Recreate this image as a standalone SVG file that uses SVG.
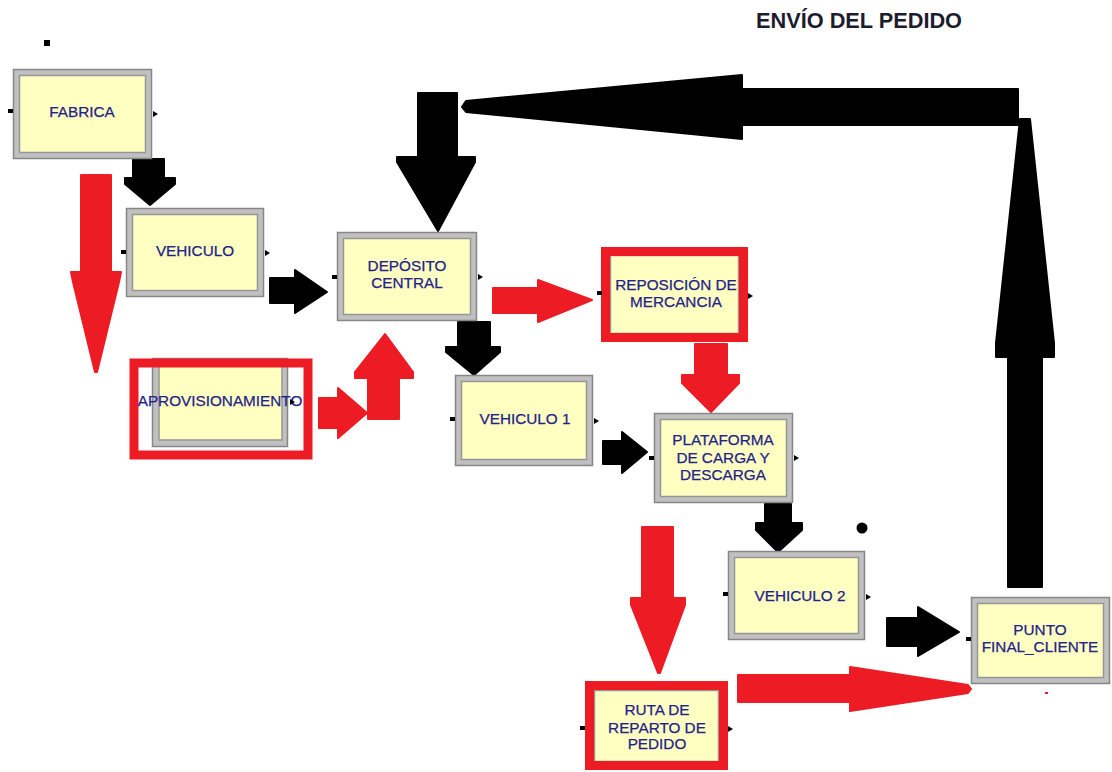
<svg xmlns="http://www.w3.org/2000/svg" xmlns:xlink="http://www.w3.org/1999/xlink" width="1112" height="772" viewBox="0 0 1112 772">
  <style>
    .frame { fill: #c0c0c0; stroke: #878787; stroke-width: 1.5; }
    .face { fill: #ffffc2; stroke: #969696; stroke-width: 1.5; }
    .hl { fill: none; stroke: #ed1c24; stroke-width: 9; }
    .lbl { font-family: "Liberation Sans", Arial, sans-serif; font-size: 15.3px; fill: #22228a; text-anchor: middle; stroke: #22228a; stroke-width: 0.25; }
    .title { font-family: "Liberation Sans", Arial, sans-serif; font-size: 22px; font-weight: bold; fill: #1c1c2e; }
    .blk { fill: #000; stroke: #000; stroke-width: 2; stroke-linejoin: round; }
    .red { fill: #ed1c24; stroke: #ed1c24; stroke-width: 2; stroke-linejoin: round; }
  </style>
  <defs>
    <rect id="pin" x="0" y="-2" width="5" height="4" fill="#000"/>
    <polygon id="pout" points="0,-3 5,0 0,3" fill="#000"/>
  </defs>

  <rect width="1112" height="772" fill="#fff"/>

  <text class="title" x="756" y="28" textLength="206" lengthAdjust="spacingAndGlyphs">ENVÍO DEL PEDIDO</text>
  <rect x="44" y="40" width="6" height="6" fill="#000"/>

  <!-- connectors -->
  <g id="connectors">
    <polygon class="blk" points="133,159 164,159 164,178 175,178 175,184 150,205 125,184 125,178 133,178"/>
    <polygon class="red" points="81,175 111,175 111,272 121,272 119,282 97,372 95,372 73,282 71,272 81,272"/>
    <polygon class="blk" points="270,278 295,278 295,270 327,292 295,313 295,303 270,303"/>
    <polygon class="red" points="368,419 399,419 399,378 413,378 413,372 385,334 355,372 355,378 368,378"/>
    <polygon class="red" points="319,398 338,398 338,388 367,413 338,438 338,428 319,428"/>
    <polygon class="blk" points="418,93 457,93 457,157 475,157 475,162 438,231 397,162 397,157 418,157"/>
    <polygon class="blk" points="1018,89 1018,125 742,125 742,139 466,112 462,107 466,101 742,75 742,89"/>
    <polygon class="blk" points="1008,587 1042,587 1042,357 1054,357 1054,343 1030,119 1020,119 996,343 996,357 1008,357"/>
    <polygon class="red" points="493,288 538,288 538,280 592,300 538,322 538,313 493,313"/>
    <polygon class="blk" points="458,322 490,322 490,347 500,347 500,352 474,375 446,352 446,347 458,347"/>
    <polygon class="red" points="695,344 727,344 727,375 739,375 739,383 711,412 682,383 682,375 695,375"/>
    <polygon class="blk" points="603,441 622,441 622,432 647,452 622,473 622,464 603,464"/>
    <polygon class="blk" points="765,504 791,504 791,523 802,523 802,530 778,552 756,530 756,523 765,523"/>
    <polygon class="red" points="642,527 673,527 673,598 685,598 685,605 660,673 658,673 631,605 631,598 642,598"/>
    <polygon class="blk" points="887,618 918,618 918,607 959,632 918,656 918,646 887,646"/>
    <polygon class="red" points="738,675 850,675 850,667 968,685 971,689 968,693 850,711 850,702 738,702"/>
    <circle cx="862" cy="528" r="5.5" fill="#000"/>
    <rect x="1045" y="692" width="3" height="2" fill="#ed1c24"/>
  </g>

  <!-- nodes -->
  <g id="fabrica">
    <rect class="frame" x="13.5" y="69.5" width="138" height="89"/>
    <rect class="face" x="19.5" y="75.5" width="126" height="77"/>
    <use xlink:href="#pin" x="8" y="111"/>
    <use xlink:href="#pout" x="153" y="114"/>
    <text class="lbl" x="82" y="117">FABRICA</text>
  </g>

  <g id="vehiculo">
    <rect class="frame" x="126.5" y="208.5" width="137" height="88"/>
    <rect class="face" x="132.5" y="214.5" width="125" height="76"/>
    <use xlink:href="#pin" x="121" y="252"/>
    <use xlink:href="#pout" x="265" y="253"/>
    <text class="lbl" x="195" y="256">VEHICULO</text>
  </g>

  <g id="deposito">
    <rect class="frame" x="337.5" y="232.5" width="139" height="88"/>
    <rect class="face" x="343.5" y="238.5" width="127" height="76"/>
    <use xlink:href="#pin" x="332" y="277"/>
    <use xlink:href="#pout" x="478" y="277"/>
    <text class="lbl" x="407" y="271">DEPÓSITO</text>
    <text class="lbl" x="407" y="288">CENTRAL</text>
  </g>

  <g id="reposicion">
    <rect class="face" x="610.5" y="255.5" width="128" height="78"/>
    <rect class="hl" x="605.5" y="251.5" width="138" height="86"/>
    <use xlink:href="#pin" x="597" y="293"/>
    <use xlink:href="#pout" x="748" y="296"/>
    <text class="lbl" x="676" y="290">REPOSICIÓN DE</text>
    <text class="lbl" x="676" y="307">MERCANCIA</text>
  </g>

  <g id="aprovisionamiento">
    <rect class="frame" x="152.5" y="358.5" width="135" height="88"/>
    <rect class="face" x="159" y="365" width="123" height="75"/>
    <rect class="hl" x="134" y="363" width="174" height="92"/>
    <text class="lbl" x="220" y="406">APROVISIONAMIENTO</text>
    <use xlink:href="#pout" x="290" y="402"/>
  </g>

  <g id="vehiculo-1">
    <rect class="frame" x="455.5" y="375.5" width="137" height="90"/>
    <rect class="face" x="461.5" y="381.5" width="125" height="78"/>
    <use xlink:href="#pin" x="450" y="419"/>
    <use xlink:href="#pout" x="594" y="421"/>
    <text class="lbl" x="525" y="424">VEHICULO 1</text>
  </g>

  <g id="plataforma">
    <rect class="frame" x="654.5" y="413.5" width="138" height="89"/>
    <rect class="face" x="660.5" y="419.5" width="126" height="77"/>
    <use xlink:href="#pin" x="649" y="458"/>
    <use xlink:href="#pout" x="794" y="458"/>
    <text class="lbl" x="723" y="445">PLATAFORMA</text>
    <text class="lbl" x="723" y="463">DE CARGA Y</text>
    <text class="lbl" x="723" y="480">DESCARGA</text>
  </g>

  <g id="vehiculo-2">
    <rect class="frame" x="728.5" y="551.5" width="136" height="88"/>
    <rect class="face" x="734.5" y="557.5" width="124" height="76"/>
    <use xlink:href="#pin" x="723" y="594"/>
    <use xlink:href="#pout" x="866" y="597"/>
    <text class="lbl" x="800" y="601">VEHICULO 2</text>
  </g>

  <g id="punto-final-cliente">
    <rect class="frame" x="971.5" y="597.5" width="138" height="86"/>
    <rect class="face" x="977.5" y="603.5" width="126" height="74"/>
    <use xlink:href="#pin" x="966" y="639"/>
    <text class="lbl" x="1040" y="635">PUNTO</text>
    <text class="lbl" x="1040" y="652">FINAL_CLIENTE</text>
  </g>

  <g id="ruta-reparto">
    <rect class="face" x="594.5" y="690.5" width="124" height="71"/>
    <rect class="hl" x="589.5" y="685.5" width="134" height="80"/>
    <use xlink:href="#pin" x="580" y="728"/>
    <use xlink:href="#pout" x="728" y="729"/>
    <text class="lbl" x="657" y="715">RUTA DE</text>
    <text class="lbl" x="657" y="733">REPARTO DE</text>
    <text class="lbl" x="657" y="749">PEDIDO</text>
  </g>
</svg>
